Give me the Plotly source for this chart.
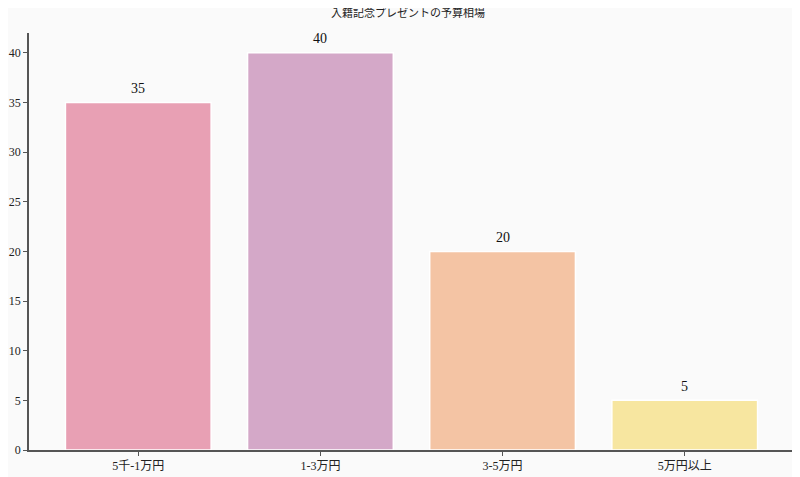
"""Budget bar chart"""

import plotly.graph_objects as go

categories = ['5千-1万円', '1-3万円', '3-5万円', '5万円以上']
values = [35, 40, 20, 5]
bar_colors = ['#E8A0B4', '#D4A8C8', '#F4C4A4', '#F7E6A0']
y_ticks = [0, 5, 10, 15, 20, 25, 30, 35, 40]

FONT = 'Liberation Serif, DejaVu Serif, Noto Sans CJK JP, serif'

fig = go.Figure()
fig.add_trace(go.Bar(
    x=categories, y=values,
    marker=dict(color=bar_colors, line=dict(color='white', width=1.5)),
    width=0.8,
    hoverinfo='skip'
))

for cat, val in zip(categories, values):
    fig.add_annotation(x=cat, y=val, text=str(val), showarrow=False,
                       yshift=14, font=dict(size=14, color='#111', family=FONT))

fig.update_layout(
    width=800, height=477,
    margin=dict(l=21, r=14, t=25, b=35),
    paper_bgcolor='#FAFAFA', plot_bgcolor='#FAFAFA',
    font=dict(family=FONT, size=12, color='#222'),
    title=dict(text='入籍記念プレゼントの予算相場', x=0.5, xanchor='center',
               y=0.997, yanchor='top', font=dict(size=11, color='#222')),
    showlegend=False,
    bargap=0.2
)
fig.update_xaxes(range=[-0.6, 3.6], showline=True, linecolor='#555', linewidth=1.5,
                 ticks='outside', ticklen=4, tickcolor='#555', showgrid=False,
                 zeroline=False, automargin=False)
fig.update_yaxes(range=[0, 42], tickvals=y_ticks, showline=True, linecolor='#555',
                 linewidth=1.5, ticks='outside', ticklen=4, tickcolor='#555',
                 showgrid=False, zeroline=False, automargin=False)

fig.write_html("out.html")
